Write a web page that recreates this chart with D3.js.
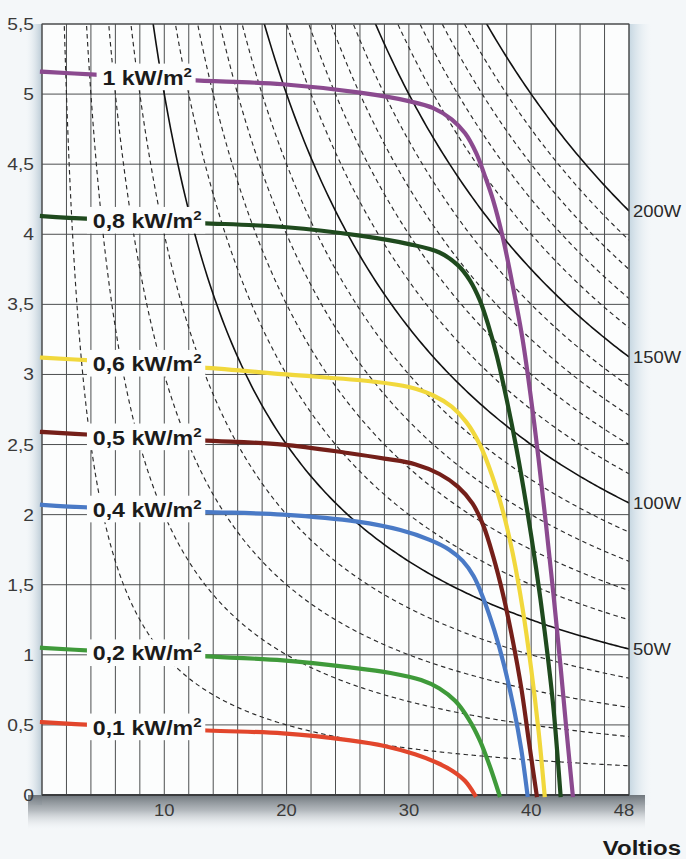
<!DOCTYPE html>
<html><head><meta charset="utf-8">
<script src="https://cdn.jsdelivr.net/npm/d3@7"></script>
<style>body{margin:0;background:#f4f7f9} svg{display:block}</style>
</head><body><svg id="c" width="686" height="859"></svg>
<script>
// ---------- data ----------
const irradianceLabels = ["1 kW/m", "0,8 kW/m", "0,6 kW/m", "0,5 kW/m", "0,4 kW/m", "0,2 kW/m", "0,1 kW/m"];
const volts1000 = [0, 4, 12, 19.7, 26, 30, 32, 33.5, 34.6, 35.5, 36.2, 36.9, 37.7, 38.5, 39.3, 40.0, 40.6, 41.2, 41.8, 42.4, 42.9, 43.4];
const amps1000  = [5.16, 5.14, 5.10, 5.07, 5.01, 4.95, 4.90, 4.82, 4.72, 4.58, 4.42, 4.24, 3.97, 3.63, 3.25, 2.82, 2.40, 1.94, 1.45, 0.92, 0.45, 0];
const volts800 = [0, 4, 13, 20, 26, 30, 32.5, 34, 35, 35.8, 36.5, 37.2, 38, 38.8, 39.6, 40.4, 41.1, 41.8, 42.4];
const amps800  = [4.13, 4.11, 4.08, 4.05, 3.99, 3.93, 3.87, 3.78, 3.67, 3.53, 3.35, 3.13, 2.82, 2.47, 2.07, 1.62, 1.17, 0.64, 0];
const volts600 = [0, 4, 13, 20, 27, 30, 32, 33.5, 34.7, 35.8, 36.8, 37.7, 38.5, 39.3, 40.0, 40.6, 41.1];
const amps600  = [3.12, 3.10, 3.05, 3.00, 2.95, 2.91, 2.85, 2.77, 2.66, 2.50, 2.28, 2.02, 1.72, 1.33, 0.90, 0.46, 0];
const volts500 = [0, 4, 13, 19.7, 25, 28, 30.5, 32.5, 34, 35.2, 36.1, 36.9, 37.7, 38.5, 39.2, 39.85, 40.45];
const amps500  = [2.59, 2.57, 2.53, 2.50, 2.44, 2.40, 2.36, 2.29, 2.20, 2.08, 1.92, 1.70, 1.43, 1.10, 0.76, 0.36, 0];
const volts400 = [0, 4, 13, 19.7, 25.8, 29.3, 31.7, 33.3, 34.4, 35.3, 36.1, 37.0, 37.8, 38.6, 39.2, 39.7];
const amps400  = [2.07, 2.05, 2.02, 2.00, 1.95, 1.89, 1.82, 1.75, 1.67, 1.56, 1.40, 1.17, 0.92, 0.61, 0.32, 0];
const volts200 = [0, 4, 13, 19.7, 25.2, 28.5, 31, 32.5, 33.8, 34.9, 35.8, 36.6, 37.4];
const amps200  = [1.05, 1.03, 0.99, 0.96, 0.91, 0.87, 0.82, 0.76, 0.67, 0.54, 0.39, 0.21, 0];
const volts100 = [0, 4, 13.5, 19.7, 25.2, 28, 30.5, 32.3, 33.6, 34.6, 35.4];
const amps100  = [0.52, 0.50, 0.46, 0.44, 0.39, 0.35, 0.29, 0.23, 0.17, 0.10, 0];

const isoPowers = [10, 20, 30, 40, 50, 60, 70, 80, 90, 100, 110, 120, 130, 140, 150, 160, 170, 180, 190, 200];
const isoLabelled = [50, 100, 150, 200];
const isoLabels = ["50W", "100W", "150W", "200W"];

const yTicks = [0, 0.5, 1, 1.5, 2, 2.5, 3, 3.5, 4, 4.5, 5, 5.5];
const yTickLabels = ["0", "0,5", "1", "1,5", "2", "2,5", "3", "3,5", "4", "4,5", "5", "5,5"];
const xTicks = [10, 20, 30, 40, 48];
const xGrid = [0, 2, 4, 6, 8, 10, 12, 14, 16, 18, 20, 22, 24, 26, 28, 30, 32, 34, 36, 38, 40, 42, 44, 46, 48];
const xTitle = "Voltios";

// ---------- styles ----------
const curveColors = ["#8b4a8f", "#1f4a1e", "#f1d83c", "#741f19", "#4a7ac6", "#3f9a3a", "#e2462c"];

const seriesV = [volts1000, volts800, volts600, volts500, volts400, volts200, volts100];
const seriesI = [amps1000, amps800, amps600, amps500, amps400, amps200, amps100];

const W = 686, H = 859;
const L = 42, T = 24, R = 629, B = 795;
const x = d3.scaleLinear().domain([0, 48]).range([L, R]);
const y = d3.scaleLinear().domain([0, 5.5]).range([B, T]);

const svg = d3.select("#c");
const defs = svg.append("defs");
defs.append("clipPath").attr("id", "plot").append("rect")
  .attr("x", L).attr("y", T).attr("width", R - L).attr("height", B - T);

function grad(id, x1, y1, x2, y2, stops) {
  const g = defs.append("linearGradient").attr("id", id)
    .attr("x1", x1).attr("y1", y1).attr("x2", x2).attr("y2", y2);
  stops.forEach(s => g.append("stop").attr("offset", s[0]).attr("stop-color", s[1]).attr("stop-opacity", s[2]));
}
grad("gBottom", 0, 0, 0, 1, [[0, "#6f767c", 1], [0.45, "#a3a9ae", 0.8], [1, "#dfe4e8", 0]]);
grad("gLeft", 1, 0, 0, 0, [[0, "#b9c9d4", 1], [1, "#e6edf2", 0]]);
grad("gRight", 0, 0, 1, 0, [[0, "#c5d6e1", 1], [1, "#e6eef3", 0]]);

// background
svg.append("rect").attr("width", W).attr("height", H).attr("fill", "#f4f7f9");
svg.append("rect").attr("x", L - 16).attr("y", T).attr("width", 16).attr("height", B - T + 10).attr("fill", "url(#gLeft)");
svg.append("rect").attr("x", R).attr("y", T).attr("width", 22).attr("height", B - T + 10).attr("fill", "url(#gRight)");
svg.append("rect").attr("x", L - 14).attr("y", B).attr("width", R - L + 30).attr("height", 34).attr("fill", "url(#gBottom)");
svg.append("rect").attr("x", L).attr("y", T).attr("width", R - L).attr("height", B - T).attr("fill", "#fcfdfd");

// grid
const grid = svg.append("g");
grid.selectAll("line.v").data(xGrid).join("line")
  .attr("x1", d => x(d)).attr("x2", d => x(d)).attr("y1", T).attr("y2", B)
  .attr("stroke", "#4d4f50").attr("stroke-width", 1);
grid.selectAll("line.h").data(yTicks).join("line")
  .attr("x1", L).attr("x2", R).attr("y1", d => y(d)).attr("y2", d => y(d))
  .attr("stroke", "#4d4f50").attr("stroke-width", 1);

// iso-power curves
const isoG = svg.append("g").attr("clip-path", "url(#plot)");
const isoLine = d3.line().x(d => x(d[0])).y(d => y(d[1])).curve(d3.curveMonotoneX);
isoPowers.forEach(P => {
  const v0 = P / 5.6;
  const pts = d3.range(v0, 48.01, 0.2).concat([48]).map(v => [v, P / v]);
  const solid = isoLabelled.includes(P);
  isoG.append("path").attr("d", isoLine(pts)).attr("fill", "none")
    .attr("stroke", solid ? "#111" : "#2a2a2a")
    .attr("stroke-width", solid ? 1.6 : 1.15)
    .attr("stroke-dasharray", solid ? null : "4.5,3.5");
});

// frame
svg.append("rect").attr("x", L).attr("y", T).attr("width", R - L).attr("height", B - T)
  .attr("fill", "none").attr("stroke", "#4a4c4d").attr("stroke-width", 1);
svg.append("line").attr("x1", L).attr("x2", R).attr("y1", B).attr("y2", B)
  .attr("stroke", "#3a3c3e").attr("stroke-width", 2);

// IV curves
const ivLine = d3.line().x(d => x(d[0])).y(d => y(d[1])).curve(d3.curveCatmullRom.alpha(0.5));
seriesV.forEach((vs, i) => {
  const pts = vs.map((v, k) => [v, seriesI[i][k]]);
  svg.append("path").attr("d", ivLine(pts)).attr("fill", "none")
    .attr("stroke", curveColors[i]).attr("stroke-width", 4.2)
    .attr("stroke-linecap", "square").attr("stroke-linejoin", "round");
});

// irradiance labels
const sx = 1.16;
irradianceLabels.forEach((lab, i) => {
  const vs = seriesV[i], is = seriesI[i];
  const ya = d3.scaleLinear().domain(vs).range(is);
  const cy = y(ya(8.5));
  const g = svg.append("g").attr("transform", `translate(${x(8.6)},${cy}) scale(${sx},1)`);
  const t = g.append("text").attr("text-anchor", "middle").attr("y", 7)
    .attr("font-family", "Liberation Sans, Arial, sans-serif").attr("font-weight", "bold")
    .attr("font-size", 20).attr("fill", "#1b1b1b");
  t.append("tspan").text(lab);
  t.append("tspan").attr("font-size", 13).attr("dy", -8).text("2");
  const bb = t.node().getBBox();
  g.insert("rect", "text").attr("x", bb.x - 5).attr("y", bb.y - 1)
    .attr("width", bb.width + 8).attr("height", bb.height + 2).attr("fill", "#fcfdfd");
});

// y tick labels
yTicks.forEach((v, i) => {
  svg.append("g").attr("transform", `translate(34,${y(v) + 6}) scale(1.2,1)`)
    .append("text").attr("text-anchor", "end")
    .attr("font-family", "Liberation Sans, Arial, sans-serif").attr("font-size", 16)
    .attr("fill", "#3a3a3a").text(yTickLabels[i]);
});
// x tick labels
xTicks.forEach(v => {
  svg.append("g").attr("transform", `translate(${x(v) - (v === 48 ? 5 : 0)},${B + 21}) scale(1.15,1)`)
    .append("text").attr("text-anchor", "middle")
    .attr("font-family", "Liberation Sans, Arial, sans-serif").attr("font-size", 16)
    .attr("fill", "#3a3a3a").text(v);
});
// iso labels
isoLabelled.forEach((P, i) => {
  svg.append("g").attr("transform", `translate(${R + 4},${y(P / 48) + 6}) scale(1.15,1)`)
    .append("text").attr("text-anchor", "start")
    .attr("font-family", "Liberation Sans, Arial, sans-serif").attr("font-size", 16)
    .attr("fill", "#2a2a2a").text(isoLabels[i]);
});
// axis title
svg.append("g").attr("transform", `translate(681,855) scale(1.2,1)`)
  .append("text").attr("text-anchor", "end")
  .attr("font-family", "Liberation Sans, Arial, sans-serif").attr("font-weight", "bold")
  .attr("font-size", 20).attr("fill", "#1b1b1b").text(xTitle);
</script></body></html>
